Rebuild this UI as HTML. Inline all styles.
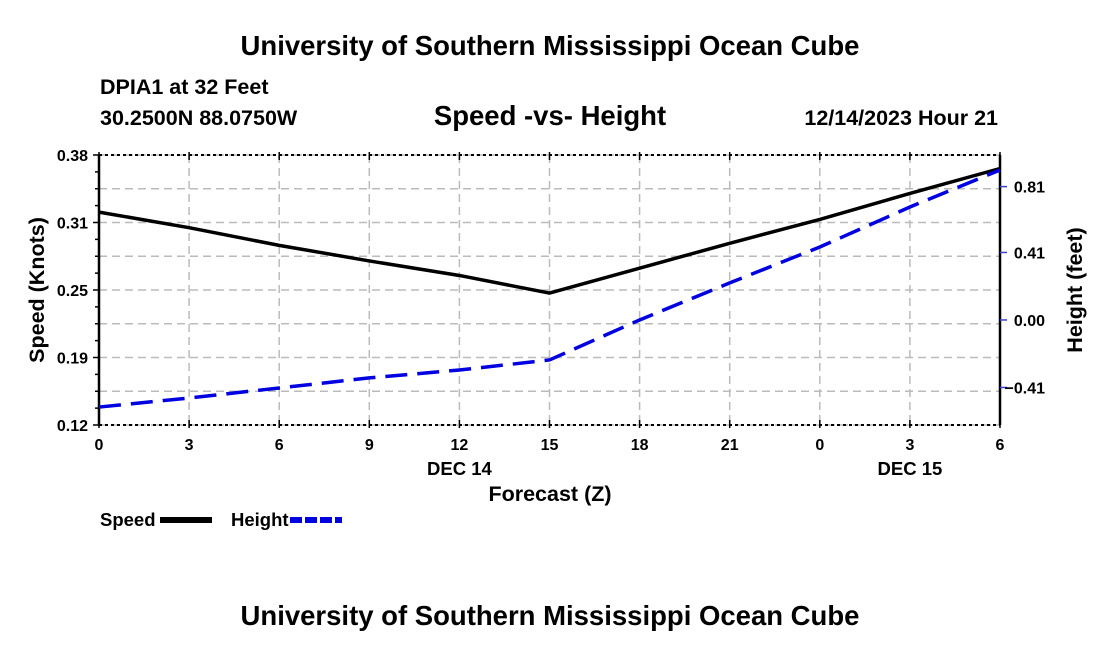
<!DOCTYPE html>
<html><head><meta charset="utf-8"><style>
body{margin:0;background:#fff;}
svg text{font-family:"Liberation Sans",sans-serif;font-weight:bold;fill:#000;}
</style></head><body>
<svg id="c" width="1100" height="650" xmlns="http://www.w3.org/2000/svg">
<text x="550" y="55" text-anchor="middle" font-size="27.5">University of Southern Mississippi Ocean Cube</text>
<text x="100" y="94" font-size="21.5">DPIA1 at 32 Feet</text>
<text x="100" y="125" font-size="21.5">30.2500N  88.0750W</text>
<text x="550" y="125" text-anchor="middle" font-size="27.5">Speed -vs- Height</text>
<text x="998" y="125" text-anchor="end" font-size="21.5">12/14/2023 Hour 21</text>
<g id="grid"></g>
<g id="axes"></g>
<g id="series"></g>
<text x="550" y="501" text-anchor="middle" font-size="21.5">Forecast (Z)</text>
<text transform="translate(44,290) rotate(-90)" text-anchor="middle" font-size="21.5">Speed (Knots)</text>
<text transform="translate(1082,290) rotate(-90)" text-anchor="middle" font-size="21.5">Height (feet)</text>
<g><text x="100" y="526" font-size="18.5">Speed</text><line x1="160" y1="520" x2="212" y2="520" stroke="#000" stroke-width="6"/></g>
<g><text x="231" y="526" font-size="18.5">Height</text><line x1="290" y1="520" x2="342" y2="520" stroke="#0000e0" stroke-width="6" stroke-dasharray="12,3"/></g>
<text x="550" y="625" text-anchor="middle" font-size="27.5">University of Southern Mississippi Ocean Cube</text>
</svg>
<script>
const hours = [0,3,6,9,12,15,18,21,24,27,30];
const xTickLabels = ["0","3","6","9","12","15","18","21","0","3","6"];
const speed = [0.325,0.310,0.293,0.278,0.264,0.247,0.271,0.295,0.318,0.343,0.367];
const height = [-0.529,-0.474,-0.413,-0.352,-0.304,-0.243,0.0,0.225,0.443,0.686,0.911];
const leftTicks = [0.12,0.185,0.25,0.315,0.38];
const leftTickLabels = ["0.12","0.19","0.25","0.31","0.38"];
const rightTicks = [-0.41,0.0,0.41,0.81];
const rightTickLabels = ["\u22120.41","0.00","0.41","0.81"];
const dayLabels = [{h:12,t:"DEC 14"},{h:27,t:"DEC 15"}];

const X0=99,X1=1000,Y0=155,Y1=425;
const xS=h=>X0+(h-0)/30*(X1-X0);
const yL=v=>Y1-(v-0.12)/(0.38-0.12)*(Y1-Y0);
const yR=v=>Y1-(v+0.638)/(1.002+0.638)*(Y1-Y0);
const NS="http://www.w3.org/2000/svg";
function mk(tag,attrs,parent){const e=document.createElementNS(NS,tag);for(const k in attrs)e.setAttribute(k,attrs[k]);parent.appendChild(e);return e;}
const grid=document.getElementById('grid'),axes=document.getElementById('axes'),ser=document.getElementById('series');
const gs={stroke:"#bbb","stroke-width":1.5,"stroke-dasharray":"8,5"};
hours.forEach(h=>{const l=mk('line',Object.assign({x1:xS(h),x2:xS(h),y1:Y0,y2:Y1},gs),grid);

});
leftTicks.concat([0.1525,0.2175,0.2825,0.3475]).forEach(v=>{const l=mk('line',Object.assign({x1:X0,x2:X1,y1:yL(v),y2:yL(v)},gs),grid);

});
mk('line',{x1:X0,x2:X0,y1:Y0,y2:Y1,stroke:"#000","stroke-width":2.5},axes);
mk('line',{x1:X1,x2:X1,y1:Y0,y2:Y1,stroke:"#000","stroke-width":2.5},axes);
mk('line',{x1:X0,x2:X1,y1:Y0,y2:Y0,stroke:"#000","stroke-width":2,"stroke-dasharray":"3,3"},axes);
mk('line',{x1:X0,x2:X1,y1:Y1,y2:Y1,stroke:"#000","stroke-width":2,"stroke-dasharray":"3,3"},axes);
hours.forEach((h,i)=>{mk('line',{x1:xS(h),x2:xS(h),y1:Y1-5,y2:Y1+3,stroke:"#000","stroke-width":1.5},axes);
mk('line',{x1:xS(h),x2:xS(h),y1:Y0-3,y2:Y0+5,stroke:"#000","stroke-width":1.5},axes);
const t=mk('text',{x:xS(h),y:450,"text-anchor":"middle","font-size":16},axes);t.textContent=xTickLabels[i];

});
dayLabels.forEach(d=>{const t=mk('text',{x:xS(d.h),y:475,"text-anchor":"middle","font-size":18.5},axes);t.textContent=d.t;

});
for(let k=0;k<=16;k++){const y=Y0+k*(Y1-Y0)/16;mk('line',{x1:X0-(k%4==0?6:4),x2:X0,y1:y,y2:y,stroke:"#000","stroke-width":1.5},axes);}
leftTicks.forEach((v,i)=>{const t=mk('text',{x:X0-11,y:yL(v)+6,"text-anchor":"end","font-size":16},axes);t.textContent=leftTickLabels[i];

});
rightTicks.forEach((v,i)=>{mk('line',{x1:X1,x2:X1+7,y1:yR(v),y2:yR(v),stroke:"#4040d0","stroke-width":1.5},axes);
const t=mk('text',{x:X1+45,y:yR(v)+6,"text-anchor":"end","font-size":16},axes);t.textContent=rightTickLabels[i];

});
const sp=mk('polyline',{points:hours.map((h,i)=>xS(h)+","+yL(speed[i])).join(" "),fill:"none",stroke:"#000","stroke-width":3.5},ser);


const ht=mk('polyline',{points:hours.map((h,i)=>xS(h)+","+yR(height[i])).join(" "),fill:"none",stroke:"#0000e0","stroke-width":3.5,"stroke-dasharray":"22,10"},ser);


</script>
</body></html>
